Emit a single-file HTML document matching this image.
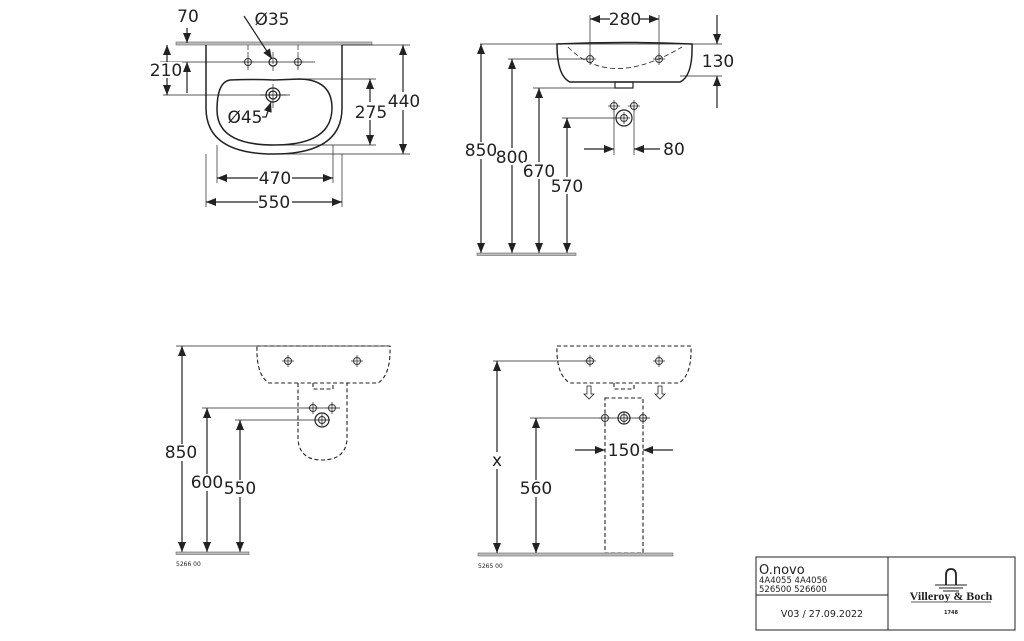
<!DOCTYPE html>
<html><head><meta charset="utf-8"><style>
html,body{margin:0;padding:0;background:#fff;}
svg{display:block;}
text{font-family:"DejaVu Sans","Liberation Sans",sans-serif;fill:#222;}
.d{font-size:17px;}
</style></head><body>
<svg width="1024" height="641" viewBox="0 0 1024 641" xmlns="http://www.w3.org/2000/svg">
<defs>
<marker id="a" markerWidth="10" markerHeight="8" refX="10" refY="4" orient="auto-start-reverse" markerUnits="userSpaceOnUse"><path d="M0,0 L10,4 L0,8 Z" fill="#222"/></marker>
<g id="hole"><circle r="3.5" fill="none" stroke="#333" stroke-width="1"/><path d="M-6,0H6M0,-6V6" stroke="#333" stroke-width="0.8"/></g>
</defs>
<g stroke="#222" stroke-width="1.2" fill="none">
<!-- ===== TOP LEFT (plan) ===== -->
<rect x="176" y="42" width="196" height="3" fill="#bbb" stroke="#666" stroke-width="0.6"/>
<path d="M206,45 V108 Q206,154 274,154 Q342,154 342,108 V45" stroke-width="1.5"/>
<path d="M230,80 Q252,79 274,80 L300,79 Q332,80 332,108 Q332,145 274,145 Q217,145 217,110 Q217,82 230,80Z" stroke-width="1.5"/>
<circle cx="273" cy="95" r="7" stroke-width="1.3"/><circle cx="273" cy="95" r="4"/>
<path d="M260,95H286M273,84V108" stroke-width="0.7"/>
<circle cx="273" cy="62" r="4"/>
<path d="M248,45V70M298,45V70M273,52V72" stroke-dasharray="5,2" stroke-width="0.7"/>
<path d="M160,62H315M163,95H290" stroke-width="0.7"/>
<line x1="187" y1="28" x2="187" y2="43" marker-end="url(#a)"/>
<line x1="187" y1="93" x2="187" y2="62" marker-end="url(#a)"/>
<line x1="167" y1="45" x2="167" y2="95" marker-start="url(#a)" marker-end="url(#a)"/>
<path d="M300,79H376M280,145H376M280,154H410M342,45H410" stroke-width="0.7"/>
<line x1="370" y1="79" x2="370" y2="145" marker-start="url(#a)" marker-end="url(#a)"/>
<line x1="403" y1="45" x2="403" y2="154" marker-start="url(#a)" marker-end="url(#a)"/>
<path d="M217,145V183M333,145V183M206,154V207M342,154V207" stroke-width="0.7"/>
<line x1="217" y1="178" x2="333" y2="178" marker-start="url(#a)" marker-end="url(#a)"/>
<line x1="206" y1="202" x2="342" y2="202" marker-start="url(#a)" marker-end="url(#a)"/>
<polyline points="244,16 272,59" marker-end="url(#a)"/>
<polyline points="262,117 266,117 271,102" marker-end="url(#a)"/>
<!-- ===== TOP RIGHT (side) ===== -->
<path d="M557,44 Q624,41 692,44 Q693,76 680,82 L570,82 Q557,76 557,44Z" stroke-width="1.5"/>
<rect x="615" y="82" width="18" height="6"/>
<path d="M568,47 Q610,90 682,47" stroke-dasharray="5,3" stroke-width="0.8"/>
<path d="M590,15V59M659,15V59" stroke-width="0.7"/>
<line x1="590" y1="19" x2="610" y2="19" marker-start="url(#a)"/>
<line x1="640" y1="19" x2="659" y2="19" marker-end="url(#a)"/>
<path d="M480,44H722M680,76H722M508,59H590M533,88H630M562,118H625" stroke-width="0.7"/>
<line x1="717" y1="15" x2="717" y2="44" marker-end="url(#a)"/>
<line x1="717" y1="108" x2="717" y2="76" marker-end="url(#a)"/>
<line x1="481" y1="44" x2="481" y2="253" marker-start="url(#a)" marker-end="url(#a)"/>
<line x1="512" y1="59" x2="512" y2="253" marker-start="url(#a)" marker-end="url(#a)"/>
<line x1="539" y1="88" x2="539" y2="253" marker-start="url(#a)" marker-end="url(#a)"/>
<line x1="567" y1="118" x2="567" y2="253" marker-start="url(#a)" marker-end="url(#a)"/>
<rect x="477" y="253" width="99" height="2.5" fill="#bbb" stroke="#666" stroke-width="0.6"/>
<circle cx="624" cy="118" r="8"/>
<path d="M614,106V155M634,106V155" stroke-width="0.7"/>
<line x1="584" y1="149" x2="614" y2="149" marker-end="url(#a)"/>
<line x1="660" y1="149" x2="634" y2="149" marker-end="url(#a)"/>
<!-- ===== BOTTOM LEFT ===== -->
<g stroke-dasharray="4,2.5" stroke-width="1.1">
<path d="M257,346 H390 Q391,375 378,383 H269 Q256,375 257,346Z"/>
<path d="M298,383 V440 Q300,460 322,460 Q345,460 347,440 V383"/>
<path d="M313,383V389H333V383"/>
</g>
<path d="M176,346H390M202,408H340M235,420H330" stroke-width="0.7"/>
<line x1="182" y1="346" x2="182" y2="552" marker-start="url(#a)" marker-end="url(#a)"/>
<line x1="207" y1="408" x2="207" y2="552" marker-start="url(#a)" marker-end="url(#a)"/>
<line x1="240" y1="420" x2="240" y2="552" marker-start="url(#a)" marker-end="url(#a)"/>
<rect x="176" y="552" width="73" height="2.5" fill="#bbb" stroke="#666" stroke-width="0.6"/>
<circle cx="322" cy="420" r="7"/>
<!-- ===== BOTTOM RIGHT ===== -->
<g stroke-dasharray="4,2.5" stroke-width="1.1">
<path d="M557,346 H691 Q692,375 679,383 H570 Q556,375 557,346Z"/>
<path d="M614,383V389H634V383"/>
<rect x="605" y="398" width="38" height="155"/>
</g>
<path d="M587,386V394H584L589,399L594,394H591V386ZM658,386V394H655L660,399L665,394H662V386Z" stroke-width="0.8"/>
<path d="M493,361H590M530,418H650" stroke-width="0.7"/>
<line x1="497" y1="361" x2="497" y2="553" marker-start="url(#a)" marker-end="url(#a)"/>
<line x1="536" y1="418" x2="536" y2="553" marker-start="url(#a)" marker-end="url(#a)"/>
<line x1="575" y1="450" x2="605" y2="450" marker-end="url(#a)"/>
<line x1="673" y1="450" x2="643" y2="450" marker-end="url(#a)"/>
<rect x="478" y="553" width="195" height="3" fill="#bbb" stroke="#666" stroke-width="0.6"/>
<circle cx="624" cy="418" r="6"/>
<!-- title block -->
<rect x="756" y="557" width="259" height="73" stroke-width="1"/>
<path d="M888,557V630M756,595H888" stroke-width="1"/>
</g>
<g>
<use href="#hole" x="248" y="62"/><use href="#hole" x="298" y="62"/>
<use href="#hole" x="590" y="59"/><use href="#hole" x="659" y="59"/>
<use href="#hole" x="614" y="106"/><use href="#hole" x="634" y="106"/><use href="#hole" x="624" y="118"/>
<use href="#hole" x="288" y="361"/><use href="#hole" x="357" y="361"/>
<use href="#hole" x="313" y="408"/><use href="#hole" x="332" y="408"/><use href="#hole" x="322" y="420"/>
<use href="#hole" x="590" y="361"/><use href="#hole" x="659" y="361"/>
<use href="#hole" x="605" y="418"/><use href="#hole" x="643" y="418"/><use href="#hole" x="624" y="418"/>
</g>
<!-- labels -->
<g class="d" text-anchor="middle">
<text x="188" y="22">70</text>
<text x="272" y="25">Ø35</text>
<rect x="150" y="62" width="32" height="16" fill="#fff"/><text x="166" y="76">210</text>
<text x="245" y="123">Ø45</text>
<rect x="355" y="102" width="32" height="18" fill="#fff"/><text x="371" y="118">275</text>
<rect x="388" y="92" width="32" height="18" fill="#fff"/><text x="404" y="107">440</text>
<rect x="258" y="170" width="34" height="16" fill="#fff"/><text x="275" y="184">470</text>
<rect x="258" y="194" width="34" height="16" fill="#fff"/><text x="274" y="208">550</text>
<text x="625" y="25">280</text>
<text x="718" y="67">130</text>
<text x="674" y="155">80</text>
<rect x="465" y="142" width="32" height="17" fill="#fff"/><text x="481" y="156">850</text>
<rect x="496" y="148" width="32" height="17" fill="#fff"/><text x="512" y="163">800</text>
<rect x="523" y="162" width="32" height="17" fill="#fff"/><text x="539" y="177">670</text>
<rect x="551" y="177" width="32" height="17" fill="#fff"/><text x="567" y="192">570</text>
<rect x="165" y="444" width="32" height="17" fill="#fff"/><text x="181" y="458">850</text>
<rect x="191" y="474" width="32" height="17" fill="#fff"/><text x="207" y="488">600</text>
<rect x="224" y="480" width="32" height="17" fill="#fff"/><text x="240" y="494">550</text>
<rect x="489" y="452" width="16" height="17" fill="#fff"/><text x="497" y="466">x</text>
<rect x="520" y="480" width="32" height="17" fill="#fff"/><text x="536" y="494">560</text>
<rect x="608" y="442" width="32" height="17" fill="#fff"/><text x="624" y="456">150</text>
</g>
<text x="176" y="566" font-size="6">5266 00</text>
<text x="478" y="568" font-size="6">5265 00</text>
<text x="759" y="574" font-size="13">O.novo</text>
<text x="759" y="583" font-size="8.5">4A4055 4A4056</text>
<text x="759" y="592" font-size="8.5">526500 526600</text>
<text x="822" y="617" font-size="9.5" text-anchor="middle">V03 / 27.09.2022</text>
<g stroke="#222" fill="none">
<path d="M946,585V575Q946,569 951,569Q956,569 956,575V585" stroke-width="1.8"/>
<path d="M935,585H967M939,588H963M943,591H959" stroke-width="1"/>
<path d="M911,602H991" stroke-width="0.8"/>
</g>
<text x="951" y="600" font-size="12" font-weight="bold" text-anchor="middle" style="font-family:'Liberation Serif',serif">Villeroy &amp; Boch</text>
<text x="951" y="614" font-size="5" font-weight="bold" text-anchor="middle">1748</text>
</svg>
</body></html>
